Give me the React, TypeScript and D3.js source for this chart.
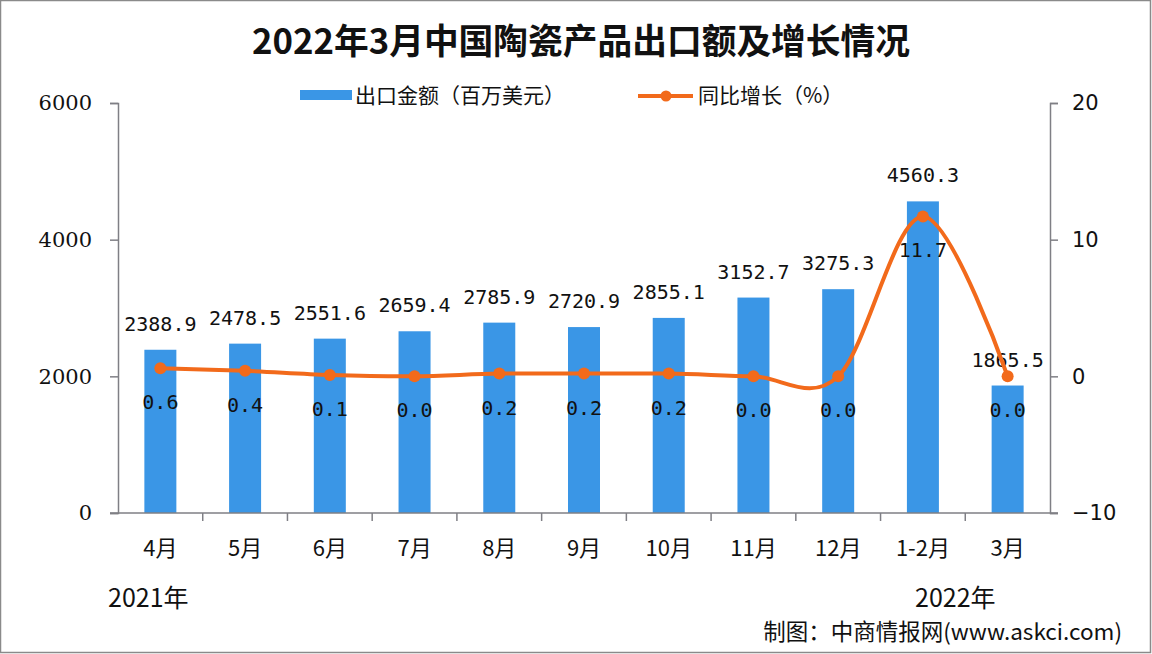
import React, { useEffect, useRef } from "react";
import * as d3 from "d3";

const months = ["4月", "5月", "6月", "7月", "8月", "9月", "10月", "11月", "12月", "1-2月", "3月"];
const exportValues = [2388.9, 2478.5, 2551.6, 2659.4, 2785.9, 2720.9, 2855.1, 3152.7, 3275.3, 4560.3, 1865.5];
const growthValues = [0.6, 0.4, 0.1, 0.0, 0.2, 0.2, 0.2, 0.0, 0.0, 11.7, 0.0];
const leftTicks = [0, 2000, 4000, 6000];
const rightTicks = [-10, 0, 10, 20];

const W = 1152;
const H = 654;
const CJK = "'Noto Sans CJK SC', sans-serif";
const MONO = "'DejaVu Sans Mono', monospace";

const App: React.FC = () => {
  const svgRef = useRef<SVGSVGElement>(null);

  useEffect(() => {
    document.body.style.margin = "0";
    const svg = d3.select(svgRef.current);
    svg.selectAll("*").remove();

    const left = 118;
    const right = 1050;
    const top = 103;
    const bottom = 513;

    const x = d3.scaleBand().domain(months).range([left, right]).paddingInner(0).paddingOuter(0);
    const yL = d3.scaleLinear().domain([0, 6000]).range([bottom, top]);
    const yR = d3.scaleLinear().domain([-10, 20]).range([bottom, top]);
    const barW = 32;
    const cx = (m: string) => x(m)! + x.bandwidth() / 2;

    svg.append("rect").attr("width", W).attr("height", H).attr("fill", "#ffffff");
    svg
      .append("rect")
      .attr("x", 0.5)
      .attr("y", 0.5)
      .attr("width", W - 2)
      .attr("height", H - 2)
      .attr("fill", "none")
      .attr("stroke", "#8a8a8a")
      .attr("stroke-width", 1.5);

    // title
    svg
      .append("text")
      .attr("x", 581)
      .attr("y", 54)
      .attr("text-anchor", "middle")
      .attr("font-family", CJK)
      .attr("font-weight", "bold")
      .attr("font-size", 35)
      .attr("textLength", 658)
      .attr("lengthAdjust", "spacingAndGlyphs")
      .attr("fill", "#111")
      .text("2022年3月中国陶瓷产品出口额及增长情况");

    // legend
    svg.append("rect").attr("x", 300).attr("y", 90).attr("width", 52).attr("height", 10).attr("fill", "#3a96e6");
    svg
      .append("text")
      .attr("x", 355)
      .attr("y", 103)
      .attr("font-family", CJK)
      .attr("font-size", 21)
      .attr("fill", "#111")
      .text("出口金额（百万美元）");
    svg
      .append("line")
      .attr("x1", 638)
      .attr("x2", 693)
      .attr("y1", 96)
      .attr("y2", 96)
      .attr("stroke", "#f26a1b")
      .attr("stroke-width", 4);
    svg.append("circle").attr("cx", 666).attr("cy", 96).attr("r", 5.5).attr("fill", "#f26a1b");
    svg
      .append("text")
      .attr("x", 698)
      .attr("y", 103)
      .attr("font-family", CJK)
      .attr("font-size", 21)
      .attr("fill", "#111")
      .text("同比增长（%）");

    // bars
    svg
      .append("g")
      .selectAll("rect")
      .data(exportValues)
      .join("rect")
      .attr("x", (d, i) => cx(months[i]) - barW / 2)
      .attr("y", (d) => yL(d))
      .attr("width", barW)
      .attr("height", (d) => bottom - yL(d))
      .attr("fill", "#3a96e6");

    // axes
    const axisColor = "#7f7f85";
    const gL = svg.append("g").attr("transform", `translate(${left},0)`);
    gL.call(d3.axisLeft(yL).tickValues(leftTicks).tickSize(8).tickPadding(18).tickFormat((d) => String(d)));
    gL.selectAll("path,line").attr("stroke", axisColor).attr("stroke-width", 1.5);
    gL.selectAll("text").attr("font-family", "'DejaVu Serif', serif").attr("font-size", 21).attr("fill", "#111");

    const gR = svg.append("g").attr("transform", `translate(${right},0)`);
    gR.call(d3.axisRight(yR).tickValues(rightTicks).tickSize(8).tickPadding(14).tickFormat((d) => (Number(d) < 0 ? "\u2212" + Math.abs(Number(d)) : String(d))));
    gR.selectAll("path,line").attr("stroke", axisColor).attr("stroke-width", 1.5);
    gR.selectAll("text").attr("font-family", "'DejaVu Sans', sans-serif").attr("font-size", 21).attr("fill", "#111");

    const gX = svg.append("g").attr("transform", `translate(0,${bottom})`);
    gX.append("line").attr("x1", left - 8).attr("x2", right + 8).attr("stroke", axisColor).attr("stroke-width", 1.5);
    gX.selectAll("line.tk")
      .data(months.slice(1))
      .join("line")
      .attr("class", "tk")
      .attr("x1", (d) => x(d)!)
      .attr("x2", (d) => x(d)!)
      .attr("y1", 0)
      .attr("y2", 8)
      .attr("stroke", axisColor)
      .attr("stroke-width", 1.5);
    gX.selectAll("text")
      .data(months)
      .join("text")
      .attr("x", (d) => cx(d))
      .attr("y", 43)
      .attr("text-anchor", "middle")
      .attr("font-family", CJK)
      .attr("font-size", 22)
      .attr("fill", "#111")
      .text((d) => d);

    // years
    svg.append("text").attr("x", 108).attr("y", 607).attr("font-family", CJK).attr("font-size", 25).attr("fill", "#111").text("2021年");
    svg.append("text").attr("x", 915).attr("y", 607).attr("font-family", CJK).attr("font-size", 25).attr("fill", "#111").text("2022年");

    // value labels
    svg
      .append("g")
      .selectAll("text")
      .data(exportValues)
      .join("text")
      .attr("x", (d, i) => cx(months[i]))
      .attr("y", (d) => yL(d) - 19)
      .attr("text-anchor", "middle")
      .attr("font-family", MONO)
      .attr("font-size", 20)
      .attr("fill", "#111")
      .text((d) => d.toFixed(1));

    // growth line
    const line = d3
      .line<number>()
      .x((d, i) => cx(months[i]))
      .y((d) => yR(d))
      .curve(d3.curveCardinal.tension(0));
    svg
      .append("path")
      .datum(growthValues)
      .attr("d", line)
      .attr("fill", "none")
      .attr("stroke", "#f26a1b")
      .attr("stroke-width", 4);
    svg
      .append("g")
      .selectAll("circle")
      .data(growthValues)
      .join("circle")
      .attr("cx", (d, i) => cx(months[i]))
      .attr("cy", (d) => yR(d))
      .attr("r", 6)
      .attr("fill", "#f26a1b");

    svg
      .append("g")
      .selectAll("text")
      .data(growthValues)
      .join("text")
      .attr("x", (d, i) => cx(months[i]))
      .attr("y", (d) => yR(d) + 41)
      .attr("text-anchor", "middle")
      .attr("font-family", MONO)
      .attr("font-size", 20)
      .attr("fill", "#111")
      .text((d) => d.toFixed(1));

    // source
    svg
      .append("text")
      .attr("x", 1122)
      .attr("y", 640)
      .attr("text-anchor", "end")
      .attr("font-family", CJK)
      .attr("font-size", 22.5)
      .attr("fill", "#111")
      .text("制图：中商情报网(www.askci.com)");
  }, []);

  return <svg ref={svgRef} width={W} height={H} style={{ display: "block" }} />;
};

export default App;
